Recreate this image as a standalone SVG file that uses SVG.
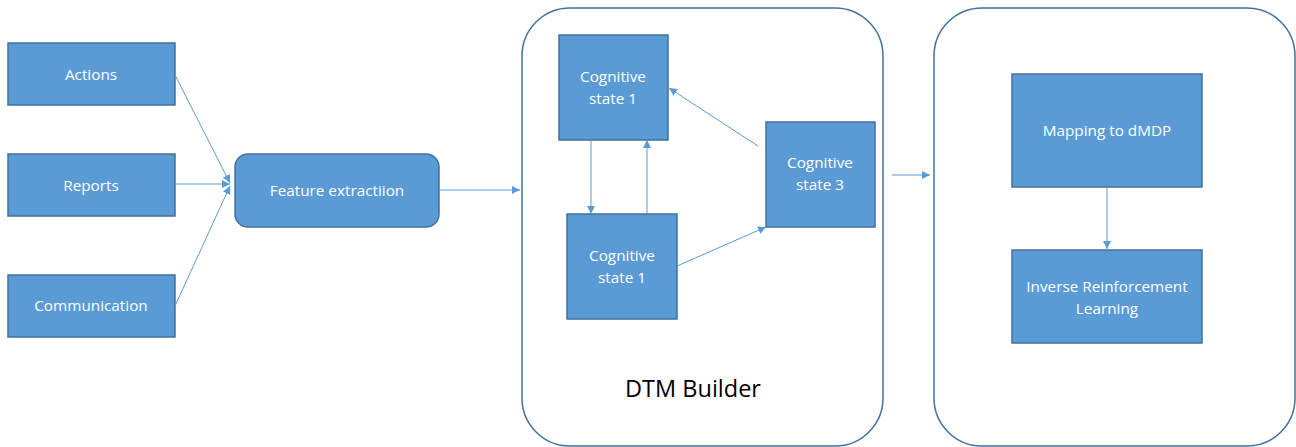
<svg xmlns="http://www.w3.org/2000/svg" width="1296" height="447" viewBox="0 0 1296 447">
<defs>
<style>
.box{fill:#5B9BD5;stroke:#41719C;stroke-width:1.5}
.cont{fill:#fff;stroke:#41719C;stroke-width:1.5}
.t{font-family:"Open Sans","Noto Sans",sans-serif;font-size:15.3px;fill:#fff;text-anchor:middle}
.big{font-family:"Open Sans","Noto Sans",sans-serif;font-size:23.5px;fill:#000;text-anchor:middle}
.c{stroke:#5B9BD5;stroke-width:1;fill:none;marker-end:url(#ah)}
</style>
<marker id="ah" viewBox="0 0 10 10" refX="10" refY="5" markerWidth="8" markerHeight="8" markerUnits="userSpaceOnUse" orient="auto">
<path d="M0,0 L10,5 L0,10 z" fill="#5B9BD5"/>
</marker>
</defs>
<g id="dtm-builder"><rect class="cont" x="522" y="8" width="361" height="438" rx="48"/><text class="big" x="693" y="397">DTM Builder</text></g>
<g id="irl-container"><rect class="cont" x="934" y="8" width="361" height="438" rx="48"/></g>
<g id="actions"><rect class="box" x="8" y="43" width="167" height="62"/><text class="t" x="91" y="80">Actions</text></g>
<g id="reports"><rect class="box" x="8" y="154" width="167" height="62"/><text class="t" x="91" y="191">Reports</text></g>
<g id="communication"><rect class="box" x="8" y="275" width="167" height="62"/><text class="t" x="91" y="311">Communication</text></g>
<g id="feature"><rect class="box" x="235" y="154" width="204" height="73" rx="13"/><text class="t" x="337" y="196">Feature extractiion</text></g>
<g id="cog1a"><rect class="box" x="559" y="35" width="109" height="105"/><text class="t" x="613" y="82">Cognitive</text><text class="t" x="613" y="104">state 1</text></g>
<g id="cog1b"><rect class="box" x="567" y="214" width="110" height="105"/><text class="t" x="622" y="261">Cognitive</text><text class="t" x="622" y="283">state 1</text></g>
<g id="cog3"><rect class="box" x="766" y="122" width="109" height="105"/><text class="t" x="820" y="168">Cognitive</text><text class="t" x="820" y="190">state 3</text></g>
<g id="mapping"><rect class="box" x="1012" y="74" width="190" height="113"/><text class="t" x="1107" y="136">Mapping to dMDP</text></g>
<g id="irl"><rect class="box" x="1012" y="250" width="190" height="93"/><text class="t" x="1107" y="292">Inverse Reinforcement</text><text class="t" x="1107" y="314">Learning</text></g>
<g id="connectors">
<line class="c" x1="175" y1="75" x2="230" y2="183"/>
<line class="c" x1="175" y1="184" x2="230" y2="184"/>
<line class="c" x1="175" y1="306" x2="230" y2="186"/>
<line class="c" x1="439" y1="190" x2="520" y2="190"/>
<line class="c" x1="591" y1="140" x2="591" y2="214"/>
<line class="c" x1="647" y1="214" x2="647" y2="140"/>
<line class="c" x1="758" y1="146" x2="669" y2="88"/>
<line class="c" x1="677" y1="266" x2="766" y2="227"/>
<line class="c" x1="892" y1="175" x2="930" y2="175"/>
<line class="c" x1="1107" y1="187" x2="1107" y2="249"/>
</g>
</svg>
